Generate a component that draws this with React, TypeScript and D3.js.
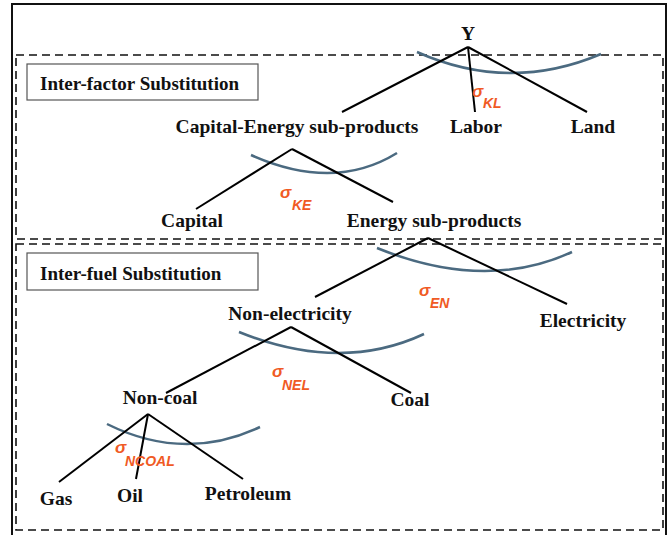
import React, { useEffect, useRef } from 'react';
import * as d3 from 'd3';

// nesting structure of the production function
const nestParents = ['Y', 'Capital-Energy sub-products', 'Energy sub-products', 'Non-electricity', 'Non-coal'];
const nestChildren = [
	['Capital-Energy sub-products', 'Labor', 'Land'],
	['Capital', 'Energy sub-products'],
	['Non-electricity', 'Electricity'],
	['Non-coal', 'Coal'],
	['Gas', 'Oil', 'Petroleum']
];
const sigmaSubscripts = ['KL', 'KE', 'EN', 'NEL', 'NCOAL'];
const groupLabels = ['Inter-factor Substitution', 'Inter-fuel Substitution'];

// layout (pixel positions)
const labelPos: Record<string, [number, number]> = {
	'Y': [468, 40],
	'Capital-Energy sub-products': [297, 133],
	'Labor': [476, 133],
	'Land': [593, 133],
	'Capital': [192, 227],
	'Energy sub-products': [434, 227],
	'Non-electricity': [290, 320],
	'Electricity': [583, 327],
	'Non-coal': [160, 404],
	'Coal': [410, 406],
	'Gas': [56, 505],
	'Oil': [130, 502],
	'Petroleum': [248, 500]
};
// apex of each nest
const apexPos: [number, number][] = [[468, 47], [292, 149], [428, 238], [291, 327], [148, 414]];
// where each branch line ends
const branchEnd: Record<string, [number, number]> = {
	'Capital-Energy sub-products': [342, 112],
	'Labor': [475, 112],
	'Land': [587, 112],
	'Capital': [196, 209],
	'Energy sub-products': [393, 202],
	'Non-electricity': [315, 297],
	'Electricity': [567, 304],
	'Non-coal': [166, 393],
	'Coal': [411, 393],
	'Gas': [59, 482],
	'Oil': [136, 479],
	'Petroleum': [243, 479]
};
// substitution arcs: start, lowest point, end
const arcPos: [number, number][][] = [
	[[417, 52], [509, 73], [601, 54]],
	[[251, 155], [329, 173], [397, 153]],
	[[377, 248], [480, 271], [572, 252]],
	[[239, 332], [336, 353], [424, 334]],
	[[107, 424], [184, 444], [260, 427]]
];
// sigma glyph position (left, baseline) and subscript position
const sigmaPos: [number, number, number, number][] = [
	[472, 97, 483, 108],
	[280, 198, 292, 210],
	[419, 296, 430, 308],
	[272, 377, 282, 390],
	[115, 453, 125, 466]
];
const groupBox = [
	{ x: 16, y: 55, w: 647, h: 184, lx: 27, ly: 64, lw: 231, lh: 36, tx: 40, ty: 90 },
	{ x: 16, y: 244, w: 647, h: 286, lx: 27, ly: 253, lw: 231, lh: 37, tx: 40, ty: 280 }
];

const SERIF = '"Liberation Serif", "Times New Roman", serif';
const SANS = '"Liberation Sans", Arial, sans-serif';

export default function App () {
	const ref = useRef<SVGSVGElement>(null);

	useEffect(() => {
		const svg = d3.select(ref.current);
		svg.selectAll('*').remove();

		svg.append('rect').attr('width', 670).attr('height', 535).attr('fill', '#fff');

		// outer frame
		svg.append('rect')
			.attr('x', 12).attr('y', 4).attr('width', 654).attr('height', 540)
			.attr('fill', 'none').attr('stroke', '#111').attr('stroke-width', 2);

		// group boxes
		groupBox.forEach((b, i) => {
			svg.append('rect')
				.attr('x', b.x).attr('y', b.y).attr('width', b.w).attr('height', b.h)
				.attr('fill', 'none').attr('stroke', '#111').attr('stroke-width', 1.6)
				.attr('stroke-dasharray', '8,5');
			svg.append('rect')
				.attr('x', b.lx).attr('y', b.ly).attr('width', b.lw).attr('height', b.lh)
				.attr('fill', '#fff').attr('stroke', '#555').attr('stroke-width', 1.2);
			svg.append('text')
				.attr('x', b.tx).attr('y', b.ty)
				.attr('font-family', SERIF).attr('font-weight', 'bold').attr('font-size', 19)
				.attr('fill', '#111')
				.text(groupLabels[i]);
		});

		// arcs
		arcPos.forEach(a => {
			const [p0, pm, p1] = a;
			const cx = 2 * pm[0] - (p0[0] + p1[0]) / 2;
			const cy = 2 * pm[1] - (p0[1] + p1[1]) / 2;
			const p = d3.path();
			p.moveTo(p0[0], p0[1]);
			p.quadraticCurveTo(cx, cy, p1[0], p1[1]);
			svg.append('path')
				.attr('d', p.toString())
				.attr('fill', 'none').attr('stroke', '#4b6a80').attr('stroke-width', 2.5);
		});

		// branches
		nestParents.forEach((parent, i) => {
			const apex = apexPos[i];
			nestChildren[i].forEach(child => {
				const end = branchEnd[child];
				svg.append('line')
					.attr('x1', apex[0]).attr('y1', apex[1])
					.attr('x2', end[0]).attr('y2', end[1])
					.attr('stroke', '#000').attr('stroke-width', 2);
			});
		});

		// node labels
		const allNodes = Array.from(new Set(nestParents.concat(...nestChildren)));
		svg.selectAll('text.node')
			.data(allNodes)
			.enter().append('text')
			.attr('class', 'node')
			.attr('x', d => labelPos[d][0])
			.attr('y', d => labelPos[d][1])
			.attr('text-anchor', 'middle')
			.attr('font-family', SERIF).attr('font-weight', 'bold').attr('font-size', 19.5)
			.attr('fill', '#111')
			.text(d => d);

		// elasticities
		sigmaSubscripts.forEach((s, i) => {
			const [sx, sy, bx, by] = sigmaPos[i];
			svg.append('text')
				.attr('x', sx).attr('y', sy)
				.attr('font-family', SANS).attr('font-style', 'italic').attr('font-weight', 'bold')
				.attr('font-size', 17)
				.attr('fill', '#f05a24')
				.text('σ');
			svg.append('text')
				.attr('x', bx).attr('y', by)
				.attr('font-family', SANS).attr('font-style', 'italic').attr('font-weight', 'bold')
				.attr('font-size', 14)
				.attr('fill', '#f05a24')
				.text(s);
		});
	}, []);

	return (
		<svg ref={ref} width={670} height={535}
			style={{ position: 'absolute', left: 0, top: 0, display: 'block' }}>
		</svg>
	);
}
